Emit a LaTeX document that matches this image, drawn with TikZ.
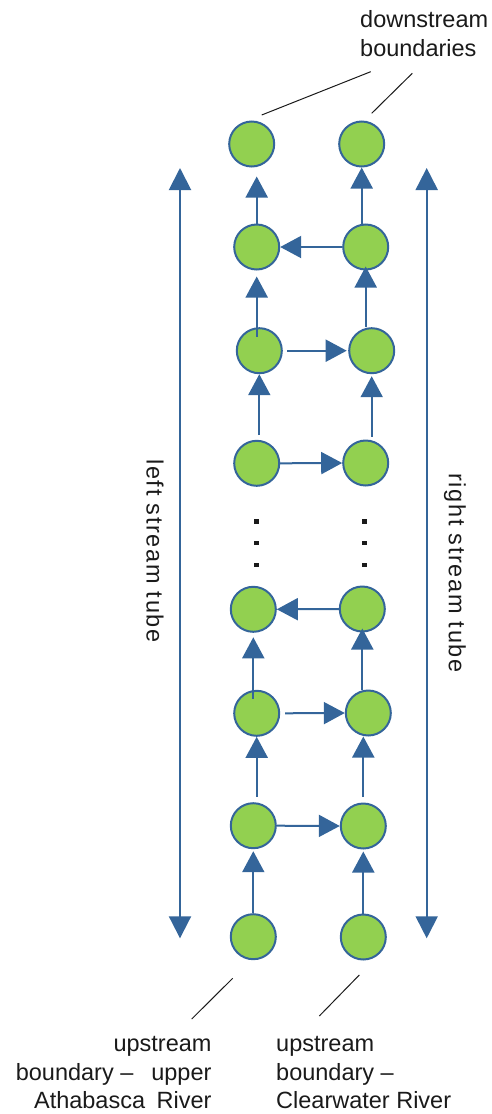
\documentclass[tikz,border=0pt]{standalone}
\usepackage{fontspec}
\setmainfont{Liberation Sans}
\usetikzlibrary{arrows.meta}
\definecolor{nodegreen}{HTML}{92D050}
\definecolor{flowblue}{HTML}{34659A}
\definecolor{inkgrey}{HTML}{1A1A1A}
\begin{document}
\begin{tikzpicture}[x=1pt,y=-1pt,
  cell/.style={circle, draw=flowblue, fill=nodegreen, line width=2pt,
               minimum size=45pt, inner sep=0pt},
  flow/.style={draw=flowblue, line width=2pt, -{Triangle[width=22pt,length=21pt]}},
  tube/.style={draw=flowblue, line width=2pt,
               {Triangle[width=22pt,length=22pt]}-{Triangle[width=22pt,length=22pt]}},
  leader/.style={draw=inkgrey, line width=1pt},
  txt/.style={font=\fontsize{23.5}{28.5}\selectfont, text=inkgrey, inner sep=0pt},
  sidetxt/.style={font=\fontsize{23.5}{28.5}\selectfont\addfontfeature{LetterSpace=7},
                  text=inkgrey, inner sep=0pt, rotate=-90},
  dotmark/.style={fill=inkgrey, minimum size=4.5pt, inner sep=0pt}
]
\useasboundingbox (0,0) rectangle (491,1114);

% grid cells of the two stream tubes
\node[cell] (L1) at (251.7,144) {};   \node[cell] (R1) at (361.7,144) {};
\node[cell] (L2) at (256.7,247) {};   \node[cell] (R2) at (365.7,247) {};
\node[cell] (L3) at (259.3,350.7) {}; \node[cell] (R3) at (371.7,350.7) {};
\node[cell] (L4) at (256.7,463.3) {}; \node[cell] (R4) at (365.7,463) {};
\node[cell] (L5) at (253.3,609.3) {}; \node[cell] (R5) at (362.3,609) {};
\node[cell] (L6) at (256.7,713.3) {}; \node[cell] (R6) at (368.3,713) {};
\node[cell] (L7) at (253.3,825.7) {}; \node[cell] (R7) at (363.3,826) {};
\node[cell] (L8) at (253.3,936.7) {}; \node[cell] (R8) at (363.3,937) {};

% ellipsis between the upper and lower blocks
\node[dotmark] (dl1) at (256.7,521.7) {}; \node[dotmark] (dr1) at (364.7,521.7) {};
\node[dotmark] (dl2) at (256.7,543) {};   \node[dotmark] (dr2) at (364.7,543) {};
\node[dotmark] (dl3) at (256.7,565) {};   \node[dotmark] (dr3) at (364.7,565) {};

% downstream flow along each tube
\draw[flow, shorten >=2pt] (L8.north) -- (L7.south);
\draw[flow, shorten >=2pt] (R8.north) -- (R7.south);
\draw[flow, shorten <=5.5pt] (L6.south |- L7.north) -- (L6.south);
\draw[flow, shorten <=5.5pt] (R7.north) -- (R7.north |- R6.south);
\draw[flow, shorten <=-9pt, shorten >=4.5pt] (L5.south |- L6.north) -- (L5.south);
\draw[flow, shorten >=-4pt] (R5.south |- R6.north) -- (R5.south);
\draw[flow, shorten <=4.8pt] (L3.south |- L4.north) -- (L3.south);
\draw[flow, shorten <=3pt, shorten >=2pt] (R3.south |- R4.north) -- (R3.south);
\draw[flow, shorten <=-9.5pt, shorten >=6pt] (L2.south |- L3.north) -- (L2.south);
\draw[flow, shorten >=-4pt] (R2.south |- R3.north) -- (R2.south);
\draw[flow, shorten >=9pt] (L2.north) -- (L2.north |- L1.south);
\draw[flow] (R1.south |- R2.north) -- (R1.south);

% exchange between the tubes
\draw[flow] (R2.west) -- (L2.east);
\draw[flow, shorten <=4.5pt, shorten >=1.5pt] (L3.east) -- (R3.west);
\draw[flow] (L4.east) -- (R4.west);
\draw[flow] (R5.west) -- (L5.east);
\draw[flow, shorten <=5pt] (L6.east) -- (R6.west);
\draw[flow] (L7.east) -- (R7.west);

% extent of each stream tube
\coordinate (tlT) at (180,168);   \coordinate (tlB) at (180,938.3);
\coordinate (trT) at (426.7,168); \coordinate (trB) at (426.7,938.3);
\draw[tube] (tlT) -- (tlB);
\draw[tube] (trT) -- (trB);
\node[sidetxt] (ltube) at (155,551) {left stream tube};
\node[sidetxt] (rtube) at (455,573) {right stream tube};

% boundary annotations
\node[txt, anchor=south west, align=left] (down) at (360,56.7) {downstream\\boundaries};
\coordinate (dsA) at (261.7,115);   \coordinate (dsB) at (370.7,71.7);
\coordinate (dsC) at (371.7,113.3); \coordinate (dsD) at (412.3,73.3);
\draw[leader] (dsA) -- (dsB);
\draw[leader] (dsC) -- (dsD);

\node[txt, anchor=south east, align=right] (upL) at (211.7,1109.3)
  {upstream\\boundary –\hspace{18pt}upper\\Athabasca\hspace{5pt} River};
\node[txt, anchor=south west, align=left] (upR) at (276,1109.3)
  {upstream\\boundary –\\Clearwater River};
\coordinate (usA) at (232.7,978.3); \coordinate (usB) at (191.7,1019);
\coordinate (usC) at (359.3,975);   \coordinate (usD) at (319.3,1016);
\draw[leader] (usA) -- (usB);
\draw[leader] (usC) -- (usD);
\end{tikzpicture}
\end{document}
